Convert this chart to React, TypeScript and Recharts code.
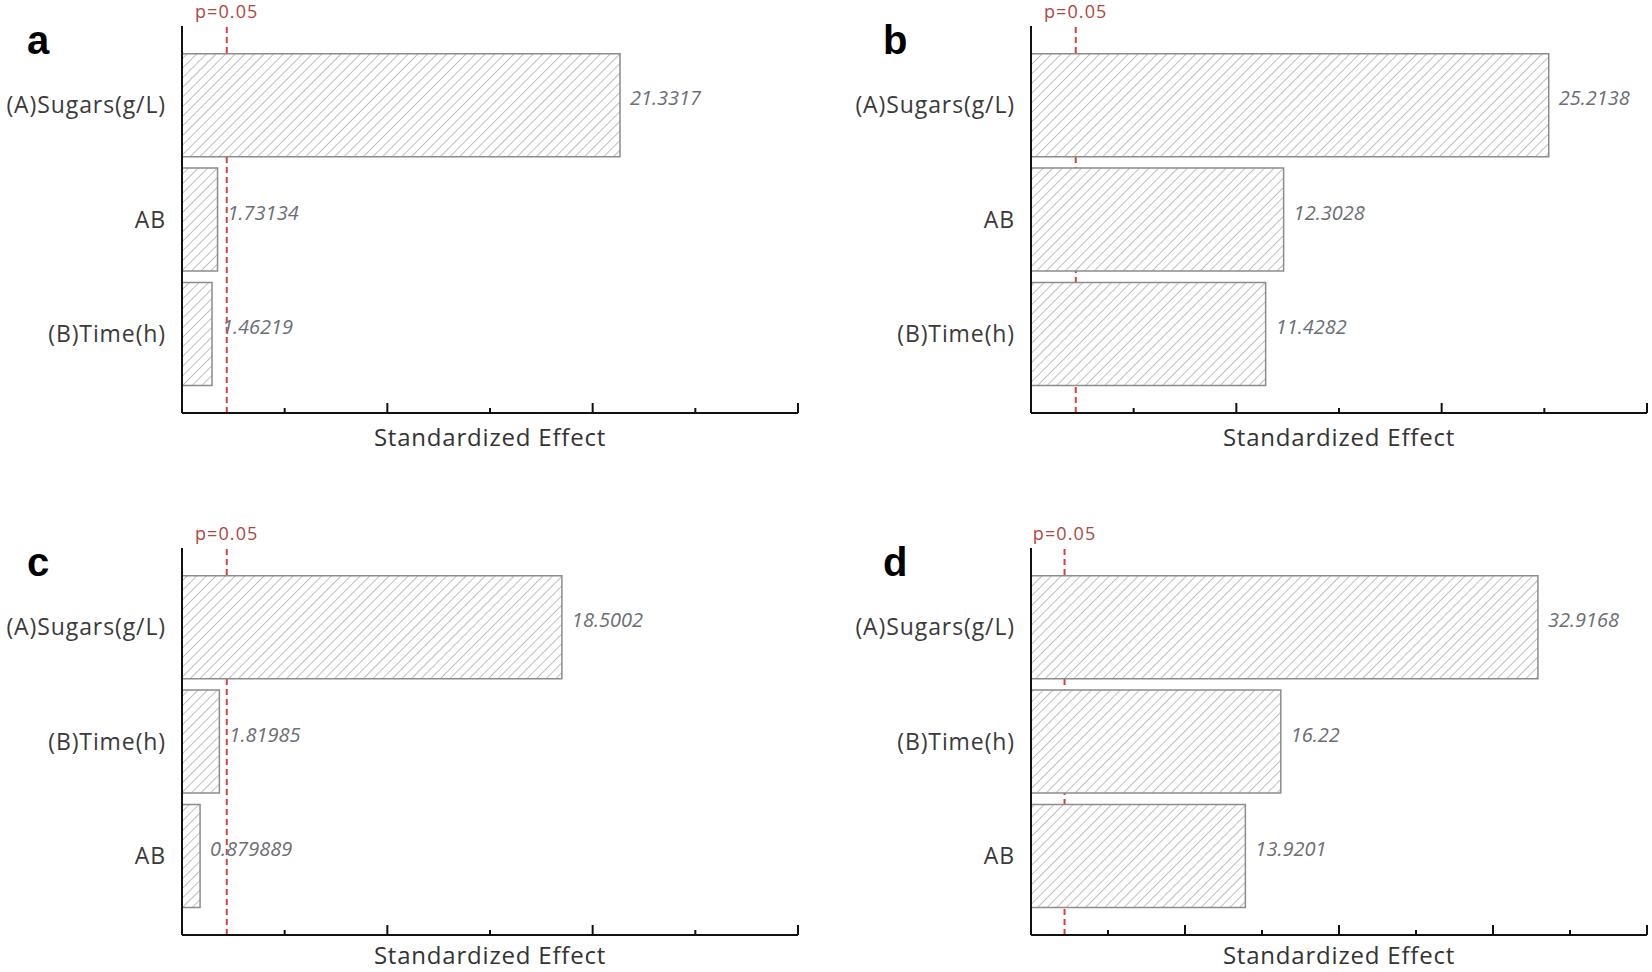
import { BarChart, Bar, XAxis, YAxis, ReferenceLine, LabelList, Label } from 'recharts';

// Pareto charts of standardized effects, four responses (a-d)
const CATS_AB = ['(A)Sugars(g/L)', 'AB', '(B)Time(h)'];
const CATS_CD = ['(A)Sugars(g/L)', '(B)Time(h)', 'AB'];
const EFFECT_A = [21.3317, 1.73134, 1.46219];
const EFFECT_B = [25.2138, 12.3028, 11.4282];
const EFFECT_C = [18.5002, 1.81985, 0.879889];
const EFFECT_D = [32.9168, 16.22, 13.9201];
const TICKS_30 = [0, 5, 10, 15, 20, 25, 30];
const TICKS_40 = [0, 5, 10, 15, 20, 25, 30, 35, 40];
const P_CRIT = 2.1788;

const FONT = '"Open Sans", "Noto Sans", sans-serif';

interface PanelProps {
  letter: string;
  cats: string[];
  values: number[];
  ticks: number[];
  left: number;
  top: number;
  yAxisWidth: number;
  marginRight: number;
  titleOffset: number;
}

function EffectTick(props: any) {
  const { x, y, payload } = props;
  const v = payload.value;
  const len = v === 0 ? 0 : v % 10 === 0 ? 10 : 5;
  return <line x1={x} x2={x} y1={y} y2={y - len} stroke="#111" strokeWidth={2} />;
}

function ValueLabel(props: any) {
  const { x, y, width, height, value } = props;
  return (
    <text
      x={x + width + 10}
      y={y + height / 2}
      fill="#6b6e74"
      fontSize={20}
      fontStyle="italic"
      fontFamily={FONT}
    >
      {String(value)}
    </text>
  );
}

function Panel({ letter, cats, values, ticks, left, top, yAxisWidth, marginRight, titleOffset }: PanelProps) {
  const data = cats.map((name, i) => ({ name, effect: values[i] }));
  const max = ticks[ticks.length - 1];
  return (
    <div style={{ position: 'absolute', left, top, width: 826, height: 460 }}>
      <div
        style={{
          position: 'absolute',
          left: letter === 'a' || letter === 'c' ? 27 : 57,
          top: 16,
          fontFamily: '"Liberation Sans", Arial, sans-serif',
          fontWeight: 'bold',
          fontSize: 40,
          lineHeight: '48px',
          color: '#000',
        }}
      >
        {letter}
      </div>
      <BarChart
        width={826}
        height={460}
        layout="vertical"
        data={data}
        margin={{ top: 26, right: marginRight, bottom: 0, left: 0 }}
        barCategoryGap="5%"
      >
        <XAxis
          type="number"
          dataKey="effect"
          domain={[0, max]}
          ticks={ticks}
          height={47}
          axisLine={{ stroke: '#111', strokeWidth: 2 }}
          tickLine={false}
          tickSize={0}
          tickMargin={0}
          tick={<EffectTick />}
          interval={0}
        >
          <Label
            value="Standardized Effect"
            position="insideBottom"
            offset={titleOffset}
            fill="#333"
            fontSize={24}
            letterSpacing={0.8}
            fontFamily={FONT}
          />
        </XAxis>
        <YAxis
          type="category"
          dataKey="name"
          width={yAxisWidth}
          padding={{ top: 22, bottom: 22 }}
          axisLine={{ stroke: '#111', strokeWidth: 2 }}
          tickLine={false}
          tickSize={0}
          tickMargin={16}
          tick={{ fill: '#3a3a3a', fontSize: 23, letterSpacing: 0.9, fontFamily: FONT }}
        />
        <ReferenceLine
          x={P_CRIT}
          stroke="#d8413a"
          strokeWidth={2}
          strokeDasharray="6 4"
          zIndex={250}
          label={{
            value: 'p=0.05',
            position: 'top',
            offset: 8,
            fill: '#b0463f',
            fontSize: 18,
            letterSpacing: 1.1,
            fontFamily: FONT,
          }}
        />
        <Bar
          dataKey="effect"
          fill="url(#hatch)"
          stroke="#8c8c8c"
          strokeWidth={1.5}
          isAnimationActive={false}
        >
          <LabelList dataKey="effect" content={<ValueLabel />} />
        </Bar>
      </BarChart>
    </div>
  );
}

export default function App() {
  return (
    <div
      style={{
        position: 'absolute',
        left: 0,
        top: 0,
        width: 1652,
        height: 972,
        overflow: 'hidden',
        background: '#fff',
      }}
    >
      <svg width={0} height={0} style={{ position: 'absolute' }}>
        <defs>
          <pattern
            id="hatch"
            patternUnits="userSpaceOnUse"
            width={6.8}
            height={6.8}
            patternTransform="rotate(45)"
          >
            <rect width={6.8} height={6.8} fill="#fff" />
            <line x1={0} y1={0} x2={0} y2={6.8} stroke="#9c9c9c" strokeWidth={1.3} />
          </pattern>
        </defs>
      </svg>
      <Panel letter="a" cats={CATS_AB} values={EFFECT_A} ticks={TICKS_30} left={0} top={0} yAxisWidth={182} marginRight={28} titleOffset={14} />
      <Panel letter="b" cats={CATS_AB} values={EFFECT_B} ticks={TICKS_30} left={826} top={0} yAxisWidth={205} marginRight={5} titleOffset={14} />
      <Panel letter="c" cats={CATS_CD} values={EFFECT_C} ticks={TICKS_30} left={0} top={522} yAxisWidth={182} marginRight={28} titleOffset={18} />
      <Panel letter="d" cats={CATS_CD} values={EFFECT_D} ticks={TICKS_40} left={826} top={522} yAxisWidth={205} marginRight={5} titleOffset={18} />
    </div>
  );
}
